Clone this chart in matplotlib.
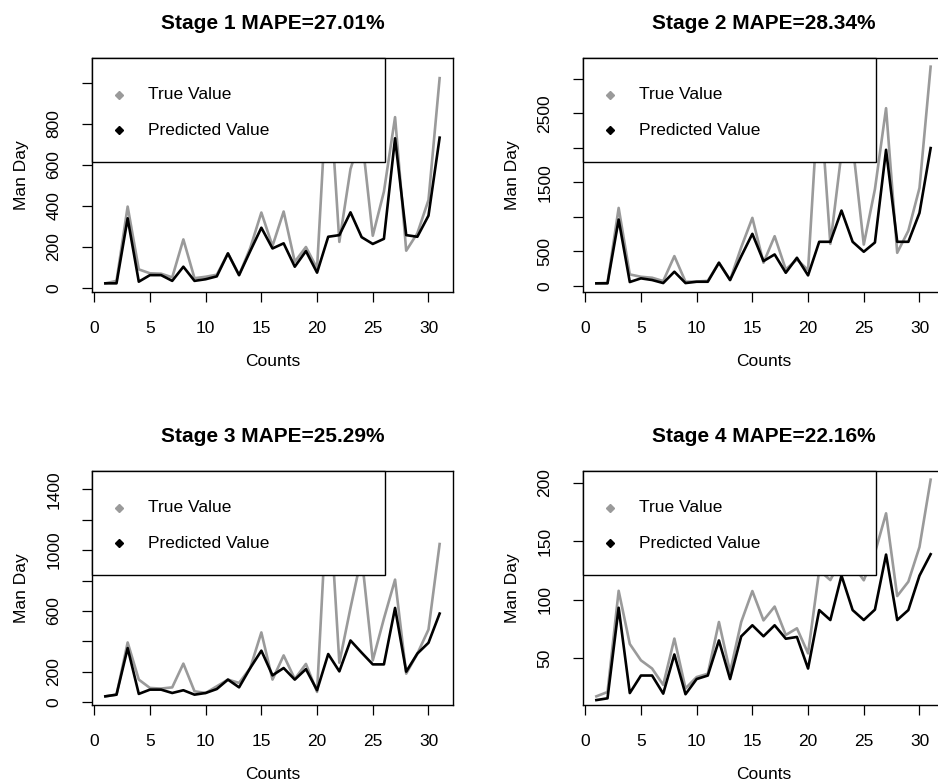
import matplotlib
matplotlib.use("Agg")
import matplotlib.pyplot as plt
import numpy as np
from matplotlib.patches import Rectangle

plt.rcParams['font.family'] = ['Liberation Sans', 'DejaVu Sans']

counts = np.arange(1, 32)

titles = ["Stage 1 MAPE=27.01%", "Stage 2 MAPE=28.34%",
          "Stage 3 MAPE=25.29%", "Stage 4 MAPE=22.16%"]

true1 = [23, 35, 397, 91, 72, 70, 52, 237, 48, 55, 65, 169, 63, 195, 368, 205,
         373, 128, 200, 96, 1079, 225, 580, 750, 255, 470, 833, 182, 267, 429, 1023]
pred1 = [23, 23, 340, 31, 63, 63, 35, 104, 35, 43, 57, 169, 63, 180, 294, 193,
         218, 104, 180, 75, 250, 258, 369, 248, 215, 240, 730, 258, 250, 353, 733]

true2 = [39, 45, 1130, 168, 134, 120, 72, 433, 62, 65, 75, 337, 87, 560, 986, 337,
         721, 240, 385, 230, 2900, 610, 1930, 2050, 600, 1400, 2573, 481, 800, 1419, 3174]
pred2 = [39, 39, 962, 58, 111, 87, 43, 207, 43, 62, 62, 337, 87, 430, 755, 361,
         457, 192, 409, 154, 640, 640, 1092, 640, 496, 630, 1971, 640, 640, 1058, 1996]

true3 = [39, 50, 393, 149, 94, 90, 98, 254, 72, 61, 105, 149, 127, 225, 459, 149,
         308, 153, 252, 68, 1463, 260, 620, 960, 275, 550, 806, 188, 319, 478, 1040]
pred3 = [39, 50, 356, 55, 83, 83, 61, 79, 50, 61, 87, 149, 98, 225, 339, 177,
         225, 149, 218, 79, 317, 203, 406, 326, 249, 249, 620, 201, 320, 391, 583]

true4 = [17.2, 20.9, 107.5, 62, 48, 41, 27, 66.6, 24, 33.7, 36.5, 80.8, 38, 80.8, 107.3, 82.2,
         94, 69.7, 75.4, 54, 125, 116.7, 135, 130, 116.5, 140, 173.8, 103, 115.3, 145, 202.6]
pred4 = [14, 15.5, 93, 20, 35, 35, 19.5, 53, 19, 32, 35, 65, 32, 68.5, 78, 68.6,
         78, 66.5, 68, 41, 91, 82.5, 120.5, 91, 82.5, 91.4, 138.5, 82.5, 91, 120.5, 138.8]

yticks = [[0, 200, 400, 600, 800, 1000],
          [0, 500, 1000, 1500, 2000, 2500, 3000],
          [0, 200, 400, 600, 800, 1000, 1200, 1400],
          [50, 100, 150, 200]]
ylabels = [['0', '200', '400', '600', '800', ''],
           ['0', '500', '', '1500', '', '2500', ''],
           ['0', '200', '', '600', '', '1000', '', '1400'],
           ['50', '100', '150', '200']]

trues = [true1, true2, true3, true4]
preds = [pred1, pred2, pred3, pred4]

W, H = 938, 782
fig = plt.figure(figsize=(W / 100, H / 100), dpi=100)

# box positions in pixels (left, top); right column runs off the image like the original
boxes = [(92, 58), (583, 58), (92, 471), (583, 471)]
bw, bh = 361, 234

grey = '#9a9a9a'

for i in range(4):
    left, top = boxes[i]
    ax = fig.add_axes([left / W, 1 - (top + bh) / H, bw / W, bh / H])
    t = np.array(trues[i], dtype=float)
    p = np.array(preds[i], dtype=float)

    ax.plot(counts, t, color=grey, lw=1.9, zorder=2)
    ax.plot(counts, p, color='black', lw=1.9, zorder=3)

    # R style axis ranges (4% padding)
    r = t.max() - t.min()
    ax.set_ylim(t.min() - 0.04 * r, t.max() + 0.04 * r)
    ax.set_xlim(1 - 1.2, 31 + 1.2)

    ax.set_xticks([0, 5, 10, 15, 20, 25, 30])
    ax.set_yticks(yticks[i])
    ax.set_yticklabels(ylabels[i])
    ax.tick_params(axis='both', direction='out', length=7, width=0.9,
                   labelsize=12.5, colors='black')
    ax.tick_params(axis='x', pad=14)
    ax.tick_params(axis='y', pad=15)
    for lab in ax.get_yticklabels():
        lab.set_rotation(90)
        lab.set_va('center')
    for s in ax.spines.values():
        s.set_linewidth(1.0)

    ax.set_title(titles[i], fontsize=15, fontweight='bold', pad=21)
    ax.set_xlabel('Counts', fontsize=12.5)
    ax.set_ylabel('Man Day', fontsize=12.5)
    ax.xaxis.set_label_coords(0.5, -0.265)
    ax.yaxis.set_label_coords(-0.175, 0.5)

    # legend box at top left, like R legend("topleft")
    ax.add_patch(Rectangle((0, 0.556), 0.813, 0.444, transform=ax.transAxes,
                           facecolor='white', edgecolor='black', lw=1.0,
                           zorder=5, clip_on=False))
    ax.plot([0.075], [0.842], marker='D', ms=4.5, color=grey,
            transform=ax.transAxes, zorder=6, clip_on=False)
    ax.plot([0.075], [0.692], marker='D', ms=4.5, color='black',
            transform=ax.transAxes, zorder=6, clip_on=False)
    ax.text(0.155, 0.842, 'True Value', transform=ax.transAxes,
            fontsize=12.5, va='center', zorder=6)
    ax.text(0.155, 0.692, 'Predicted Value', transform=ax.transAxes,
            fontsize=12.5, va='center', zorder=6)

fig.savefig('out.png', dpi=100)
